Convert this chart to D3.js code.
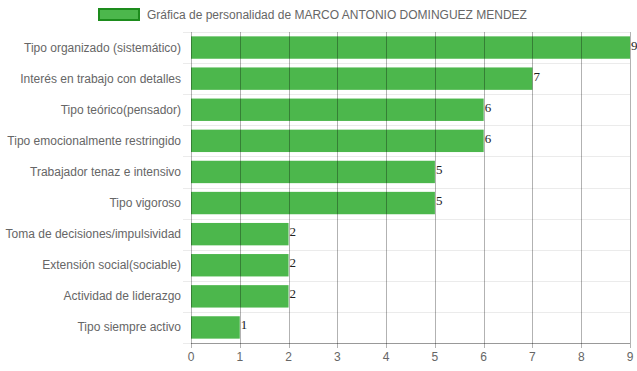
<!DOCTYPE html>
<html>
<head>
<meta charset="utf-8">
<script src="https://cdn.jsdelivr.net/npm/d3@7"></script>
<style>
  body { margin: 0; background: #fff; }
  svg { display: block; }
</style>
</head>
<body>
<svg></svg>
<script>
var width = 637, height = 371;
var margin = {top: 32, right: 7, bottom: 28, left: 191};

var title = "Gráfica de personalidad de MARCO ANTONIO DOMINGUEZ MENDEZ";
var categories = [
    "Tipo organizado (sistemático)",
    "Interés en trabajo con detalles",
    "Tipo teórico(pensador)",
    "Tipo emocionalmente restringido",
    "Trabajador tenaz e intensivo",
    "Tipo vigoroso",
    "Toma de decisiones/impulsividad",
    "Extensión social(sociable)",
    "Actividad de liderazgo",
    "Tipo siempre activo"
];
var values = [9, 7, 6, 6, 5, 5, 2, 2, 2, 1];
var xTicks = [0, 1, 2, 3, 4, 5, 6, 7, 8, 9];

var svg = d3.select("svg").attr("width", width).attr("height", height);
var g = svg.append("g").attr("transform", "translate(" + margin.left + "," + margin.top + ")");
var w = width - margin.left - margin.right, h = height - margin.top - margin.bottom;

var x = d3.scaleLinear().domain([0, 9]).range([0, w]);
var y = d3.scaleBand().domain(categories).range([0, h]);
var barH = y.bandwidth() * 0.72;

// horizontal grid (between categories)
g.selectAll(".hgrid")
    .data(d3.range(categories.length + 1))
    .enter().append("line")
    .attr("x1", -8).attr("x2", w)
    .attr("y1", function(i) { return Math.round(i * y.step()) + 0.5; })
    .attr("y2", function(i) { return Math.round(i * y.step()) + 0.5; })
    .style("stroke", "#ebebeb");

// bars
g.selectAll(".bar")
    .data(values)
    .enter().append("rect")
    .attr("x", x(0))
    .attr("y", function(d, i) { return y(categories[i]) + (y.bandwidth() - barH) / 2; })
    .attr("width", function(d) { return x(d) - x(0); })
    .attr("height", barH)
    .style("fill", "#4cb74c");

// vertical grid on top of bars
g.selectAll(".vgrid")
    .data(xTicks)
    .enter().append("line")
    .attr("x1", function(d) { return Math.round(x(d)) + 0.5; })
    .attr("x2", function(d) { return Math.round(x(d)) + 0.5; })
    .attr("y1", 0).attr("y2", h + 5)
    .style("stroke", "rgba(0,0,0,0.3)");

// x axis line
g.append("line")
    .attr("x1", 0).attr("x2", w)
    .attr("y1", h + 0.5).attr("y2", h + 0.5)
    .style("stroke", "rgba(0,0,0,0.35)");

g.selectAll(".xlab")
    .data(xTicks)
    .enter().append("text")
    .attr("x", function(d) { return x(d); })
    .attr("y", h + 18)
    .attr("text-anchor", "middle")
    .style("font", "12px 'Liberation Sans', Arial, sans-serif")
    .style("fill", "#666")
    .text(function(d) { return d; });

g.selectAll(".ylab")
    .data(categories)
    .enter().append("text")
    .attr("x", -10)
    .attr("y", function(d) { return y(d) + y.bandwidth() / 2 + 4; })
    .attr("text-anchor", "end")
    .style("font", "12px 'Liberation Sans', Arial, sans-serif")
    .style("fill", "#666")
    .text(function(d) { return d; });

// value labels
g.selectAll(".val")
    .data(values)
    .enter().append("text")
    .attr("x", function(d) { return x(d) + 1; })
    .attr("y", function(d, i) { return y(categories[i]) + y.bandwidth() / 2 + 2; })
    .style("font", "13px 'Liberation Serif', 'Times New Roman', serif")
    .style("fill", "#222")
    .text(function(d) { return d; });

// legend
svg.append("rect")
    .attr("x", 99).attr("y", 9).attr("width", 40).attr("height", 11)
    .style("fill", "#4cb74c")
    .style("stroke", "#1d8c1d")
    .style("stroke-width", 2);
svg.append("text")
    .attr("x", 147).attr("y", 19)
    .style("font", "12px 'Liberation Sans', Arial, sans-serif")
    .style("fill", "#666")
    .text(title);
</script>
</body>
</html>
